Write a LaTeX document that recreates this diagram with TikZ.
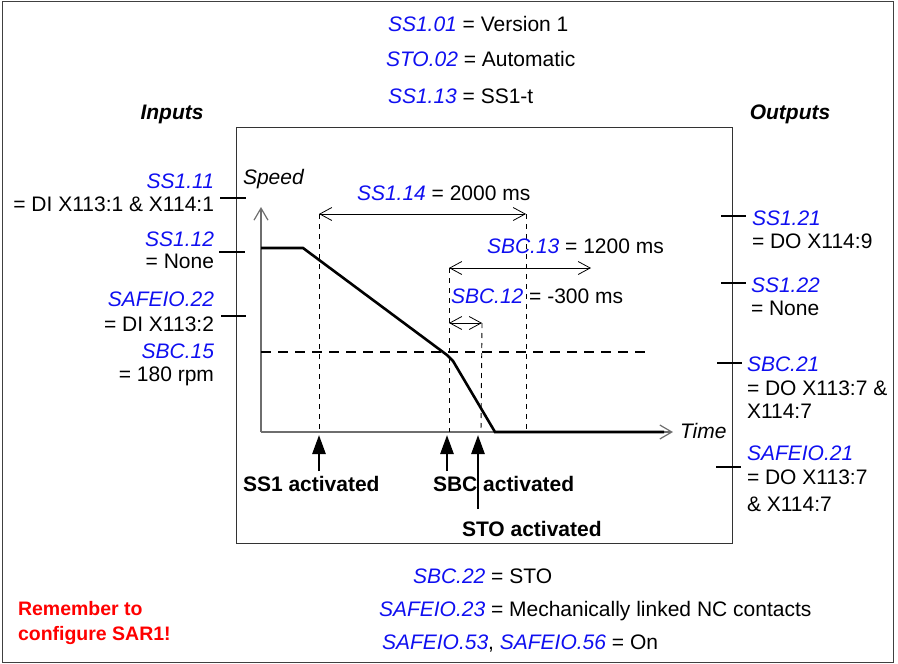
\documentclass[tikz,border=0pt]{standalone}
\usepackage{fontspec}
\setmainfont{Liberation Sans}
\usetikzlibrary{arrows.meta}
\definecolor{pblue}{RGB}{15,15,240}
\definecolor{rred}{RGB}{255,0,0}
\definecolor{axisgray}{RGB}{110,110,110}
\newcommand{\prm}[1]{\textcolor{pblue}{\itshape #1}}
\begin{document}
\begin{tikzpicture}[x=1pt,y=-1pt,
  every node/.style={inner sep=0pt,outer sep=0pt,font=\fontsize{21}{25}\selectfont},
  lt/.style={anchor=mid west,yshift=-3.5pt},
  rt/.style={anchor=mid east,yshift=-3.5pt},
  hdr/.style={yshift=-3.5pt,font=\fontsize{21}{25}\selectfont\bfseries\itshape},
  act/.style={anchor=mid west,yshift=-3.5pt,font=\fontsize{21}{25}\selectfont\bfseries},
  tick/.style={line width=2.6pt},
  dimarrow/.style={line width=0.8pt,{Straight Barb[length=12pt,width=13pt]}-{Straight Barb[length=12pt,width=13pt]}},
  guide/.style={line width=0.9pt,dash pattern=on 5pt off 5pt},
  upar/.style={line width=2.6pt,-{Triangle[length=19pt,width=13pt]}},
  axis/.style={line width=1.2pt,draw=axisgray,-{Straight Barb[length=12pt,width=14pt]}}
]
\useasboundingbox (0,0) rectangle (898,664);
\draw[line width=1pt,black!75] (2.5,1.5) rectangle (893.5,662);
\draw[line width=0.9pt,black!80] (236,127) rectangle (732,543);

% top settings
\node[lt] (t1) at (388,25) {\prm{SS1.01} = Version 1};
\node[lt] (t2) at (386,60) {\prm{STO.02} = Automatic};
\node[lt] (t3) at (388,97) {\prm{SS1.13} = SS1-t};
\node[hdr] (inp) at (172,111) {Inputs};
\node[hdr] (outp) at (790,111) {Outputs};

% inputs
\node[rt] (i1a) at (214,182) {\prm{SS1.11}};
\node[rt] (i1b) at (214,205) {= DI X113:1 \& X114:1};
\node[rt] (i2a) at (214,240) {\prm{SS1.12}};
\node[rt] (i2b) at (214,262) {= None};
\node[rt] (i3a) at (214,300) {\prm{SAFEIO.22}};
\node[rt] (i3b) at (214,325) {= DI X113:2};
\node[rt] (i4a) at (214,352) {\prm{SBC.15}};
\node[rt] (i4b) at (214,375) {= 180 rpm};
\coordinate (ti1a) at (220,198); \coordinate (ti1b) at (246,198);
\coordinate (ti2a) at (219,252); \coordinate (ti2b) at (245,252);
\coordinate (ti3a) at (221,316); \coordinate (ti3b) at (246,316);
\draw[tick] (ti1a) -- (ti1b);
\draw[tick] (ti2a) -- (ti2b);
\draw[tick] (ti3a) -- (ti3b);

% outputs
\node[lt] (o1a) at (752,219) {\prm{SS1.21}};
\node[lt] (o1b) at (752,242) {= DO X114:9};
\node[lt] (o2a) at (751,286) {\prm{SS1.22}};
\node[lt] (o2b) at (751,309) {= None};
\node[lt] (o3a) at (747,365) {\prm{SBC.21}};
\node[lt] (o3b) at (747,389) {= DO X113:7 \&};
\node[lt] (o3c) at (747,412) {X114:7};
\node[lt] (o4a) at (747,454) {\prm{SAFEIO.21}};
\node[lt] (o4b) at (747,478) {= DO X113:7};
\node[lt] (o4c) at (747,505) {\& X114:7};
\coordinate (to1a) at (721,216); \coordinate (to1b) at (746,216);
\coordinate (to2a) at (721,283); \coordinate (to2b) at (746,283);
\coordinate (to3a) at (717,363); \coordinate (to3b) at (742,363);
\coordinate (to4a) at (716,467); \coordinate (to4b) at (741,467);
\draw[tick] (to1a) -- (to1b);
\draw[tick] (to2a) -- (to2b);
\draw[tick] (to3a) -- (to3b);
\draw[tick] (to4a) -- (to4b);

% axes
\coordinate (org) at (261,432);
\coordinate (ytop) at (261,207);
\coordinate (xend) at (673,432);
\draw[axis] (org) -- (ytop);
\draw[axis] (org) -- (xend);
\node[lt,font=\fontsize{21}{25}\selectfont\itshape] (spd) at (243,178) {Speed};
\node[lt,font=\fontsize{21}{25}\selectfont\itshape] (tim) at (680,432) {Time};

% threshold
\coordinate (th1) at (261,352); \coordinate (th2) at (649,352);
\draw[line width=2.6pt,dash pattern=on 10pt off 7pt] (th1) -- (th2);

% speed curve
\coordinate (c0) at (261,248);
\coordinate (c1) at (303,248);
\coordinate (c2) at (447,355);
\coordinate (c3) at (453,361);
\coordinate (c4) at (495,432);
\coordinate (c5) at (664,432);
\draw[line width=2.6pt,line join=miter] (c0) -- (c1) -- (c2) -- (c3) -- (c4) -- (c5);

% guides
\coordinate (g1t) at (319,214); \coordinate (g1b) at (319,432);
\coordinate (g2t) at (449,268); \coordinate (g2b) at (449,432);
\coordinate (g3t) at (482,323); \coordinate (g3b) at (481,432);
\coordinate (g4t) at (526,214); \coordinate (g4b) at (526,432);
\draw[guide] (g1t) -- (g1b);
\draw[guide] (g2t) -- (g2b);
\draw[guide] (g3t) -- (g3b);
\draw[guide] (g4t) -- (g4b);

% dimension arrows
\draw[dimarrow] (g1t) -- (g4t);
\coordinate (d2b) at (591,268);
\draw[dimarrow] (g2t) -- (d2b);
\coordinate (d3a) at (449,323);
\draw[dimarrow] (d3a) -- (g3t);
\node[lt] (l14) at (357,194) {\prm{SS1.14} = 2000 ms};
\node[lt] (l13) at (487,247) {\prm{SBC.13} = 1200 ms};
\node[lt] (l12) at (451,297) {\prm{SBC.12} = -300 ms};

% activation arrows
\coordinate (a1b) at (319,471); \coordinate (a1t) at (319,435);
\coordinate (a2b) at (447,471); \coordinate (a2t) at (447,435);
\coordinate (a3b) at (478,509); \coordinate (a3t) at (478,435);
\draw[upar] (a1b) -- (a1t);
\draw[upar] (a2b) -- (a2t);
\draw[upar] (a3b) -- (a3t);
\node[act] (ss1act) at (243,485) {SS1 activated};
\node[act] (sbcact) at (433,485) {SBC activated};
\node[act] (stoact) at (462,530) {STO activated};

% bottom settings
\node[lt] (b1) at (413,577) {\prm{SBC.22} = STO};
\node[lt] (b2) at (379,610) {\prm{SAFEIO.23} = Mechanically linked NC contacts};
\node[lt] (b3) at (382,643) {\prm{SAFEIO.53}, \prm{SAFEIO.56} = On};
\node[anchor=north west,align=left,text=rred,font=\fontsize{19.5}{25}\selectfont\bfseries] (rem) at (18,601) {Remember to\\configure SAR1!};
\end{tikzpicture}
\end{document}
